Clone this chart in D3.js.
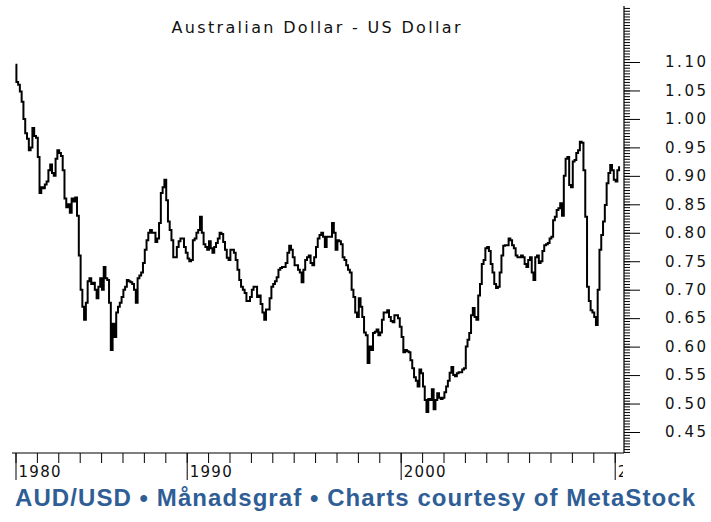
<!DOCTYPE html>
<html><head><meta charset="utf-8">
<script src="https://cdn.jsdelivr.net/npm/d3@7"></script>
<style>
html,body{margin:0;padding:0;background:#fff;}
svg{display:block;}
</style></head><body>
<svg id="c" width="711" height="522"></svg>
<script>
const titleText = "Australian Dollar - US Dollar";
const captionText = "AUD/USD \u2022 M\u00e5nadsgraf \u2022 Charts courtesy of MetaStock";
const startYear = 1982; // first monthly bar: January 1982
const audUsd = [
1.095,1.065,1.060,1.048,1.030,1.000,0.975,0.965,0.945,0.950,
0.984,0.970,0.967,0.933,0.870,0.880,0.878,0.885,0.890,0.910,
0.920,0.905,0.900,0.930,0.945,0.940,0.935,0.910,0.860,0.845,
0.850,0.835,0.860,0.855,0.862,0.830,0.760,0.700,0.670,0.647,
0.677,0.715,0.720,0.710,0.712,0.700,0.685,0.705,0.720,0.700,
0.740,0.720,0.717,0.677,0.594,0.640,0.617,0.660,0.670,0.677,
0.687,0.700,0.705,0.717,0.715,0.713,0.710,0.700,0.677,0.720,
0.725,0.730,0.747,0.770,0.787,0.800,0.805,0.800,0.800,0.784,
0.790,0.817,0.870,0.880,0.893,0.857,0.820,0.805,0.787,0.757,
0.757,0.775,0.785,0.790,0.790,0.775,0.765,0.755,0.750,0.752,
0.787,0.790,0.800,0.805,0.828,0.800,0.780,0.775,0.770,0.785,
0.773,0.765,0.775,0.782,0.790,0.800,0.798,0.784,0.770,0.756,
0.752,0.770,0.770,0.765,0.752,0.735,0.717,0.705,0.700,0.694,
0.680,0.680,0.687,0.700,0.705,0.705,0.687,0.690,0.675,0.660,
0.647,0.665,0.665,0.685,0.705,0.710,0.715,0.722,0.735,0.738,
0.740,0.740,0.747,0.765,0.777,0.770,0.757,0.743,0.743,0.735,
0.730,0.713,0.735,0.752,0.757,0.760,0.747,0.743,0.757,0.775,
0.790,0.796,0.800,0.793,0.775,0.793,0.793,0.793,0.817,0.800,
0.770,0.787,0.785,0.780,0.757,0.752,0.743,0.735,0.730,0.700,
0.687,0.660,0.652,0.685,0.670,0.652,0.625,0.620,0.571,0.600,
0.594,0.624,0.626,0.630,0.620,0.625,0.647,0.660,0.660,0.664,
0.652,0.645,0.643,0.655,0.655,0.650,0.635,0.617,0.590,0.594,
0.592,0.590,0.576,0.562,0.546,0.540,0.530,0.560,0.553,0.530,
0.506,0.485,0.508,0.506,0.525,0.490,0.506,0.518,0.510,0.508,
0.510,0.520,0.530,0.540,0.554,0.564,0.550,0.548,0.553,0.555,
0.555,0.560,0.562,0.600,0.612,0.624,0.655,0.668,0.652,0.647,
0.690,0.710,0.745,0.752,0.773,0.775,0.768,0.745,0.730,0.710,
0.703,0.705,0.730,0.760,0.777,0.778,0.778,0.790,0.787,0.778,
0.773,0.760,0.757,0.757,0.760,0.757,0.745,0.740,0.752,0.757,
0.730,0.717,0.757,0.760,0.747,0.750,0.768,0.778,0.780,0.782,
0.790,0.793,0.822,0.828,0.840,0.843,0.852,0.830,0.900,0.930,
0.933,0.884,0.880,0.925,0.928,0.940,0.945,0.960,0.958,0.910,
0.828,0.705,0.680,0.664,0.660,0.652,0.638,0.700,0.770,0.796,
0.820,0.849,0.887,0.905,0.919,0.910,0.893,0.890,0.910,0.915
];
const yMajorTicks = [0.45,0.50,0.55,0.60,0.65,0.70,0.75,0.80,0.85,0.90,0.95,1.00,1.05,1.10];
const yMinorStep = 0.005;
const yAxisRange = [0.415, 1.195];
const xMinorYears = d3.range(1982, 2011);
const xMajorYears = [1982, 1990, 2000, 2010];
const xMajorLabels = ["1980", "1990", "2000", "2010"];

const svg = d3.select("#c");
const FONT = "'DejaVu Sans', 'Liberation Sans', Arial, sans-serif";
const CAPFONT = "'Liberation Sans', Arial, sans-serif";

const x = d3.scaleTime()
  .domain([new Date(1982, 0, 1), new Date(2010, 0, 1)])
  .range([15.5, 614.7]);
const y = d3.scaleLinear().domain([0.45, 1.10]).range([432, 62]);

const axisX = 624, axisY = 453;

// title
svg.append("text")
  .attr("x", 316).attr("y", 33)
  .attr("text-anchor", "middle")
  .attr("font-family", FONT).attr("font-size", 16)
  .attr("fill", "#111")
  .attr("textLength", 289).attr("lengthAdjust", "spacing")
  .text(titleText);

// data line
const series = audUsd.map((v, i) => ({ date: new Date(startYear, i, 1), value: v }));
const line = d3.line()
  .x(d => x(d.date))
  .y(d => y(d.value))
  .curve(d3.curveStep);
svg.append("path")
  .datum(series)
  .attr("fill", "none")
  .attr("stroke", "#000")
  .attr("stroke-width", 2)
  .attr("stroke-linejoin", "miter")
  .attr("d", line);

// right axis
const minorVals = d3.range(Math.round(yAxisRange[0] / yMinorStep), Math.round(yAxisRange[1] / yMinorStep) + 1)
  .map(k => +(k * yMinorStep).toFixed(3));
const gy = svg.append("g").attr("transform", `translate(${axisX},0)`);
gy.call(d3.axisRight(y).tickValues(minorVals).tickSize(6).tickFormat(""))
  .call(g => g.select(".domain").remove());
const gy2 = svg.append("g").attr("transform", `translate(${axisX},0)`);
gy2.call(d3.axisRight(y).tickValues(yMajorTicks).tickSize(16).tickPadding(25).tickFormat(d3.format(".2f")))
  .call(g => g.select(".domain").remove());
gy2.selectAll("text")
  .attr("font-family", FONT).attr("font-size", 15).attr("fill", "#111")
  .attr("textLength", 41).attr("lengthAdjust", "spacing");
svg.selectAll(".tick line").attr("stroke", "#000");
svg.append("line")
  .attr("x1", axisX).attr("x2", axisX)
  .attr("y1", 6).attr("y2", axisY)
  .attr("stroke", "#000").attr("stroke-width", 1.2);

// bottom axis
const gx = svg.append("g").attr("transform", `translate(0,${axisY})`);
gx.call(d3.axisBottom(x).tickValues(xMinorYears.map(yr => new Date(yr, 0, 1))).tickSize(10).tickFormat(""))
  .call(g => g.select(".domain").remove());
const gx2 = svg.append("g").attr("transform", `translate(0,${axisY})`);
gx2.call(d3.axisBottom(x).tickValues(xMajorYears.map(yr => new Date(yr, 0, 1))).tickSize(27).tickFormat(""))
  .call(g => g.select(".domain").remove());
svg.selectAll(".tick line").attr("stroke", "#000");
svg.append("line")
  .attr("x1", 12).attr("x2", axisX)
  .attr("y1", axisY).attr("y2", axisY)
  .attr("stroke", "#000").attr("stroke-width", 1.2);

svg.append("clipPath").attr("id", "xlabclip")
  .append("rect").attr("x", 0).attr("y", 440).attr("width", axisX - 1).attr("height", 60);
svg.append("g").attr("clip-path", "url(#xlabclip)")
  .selectAll("text").data(xMajorYears).join("text")
  .attr("x", d => x(new Date(d, 0, 1)) + 3)
  .attr("y", 477)
  .attr("font-family", FONT).attr("font-size", 15).attr("fill", "#111")
  .attr("textLength", 42).attr("lengthAdjust", "spacing")
  .text((d, i) => xMajorLabels[i]);

// caption
svg.append("text")
  .attr("x", 15).attr("y", 506)
  .attr("font-family", CAPFONT).attr("font-size", 24).attr("font-weight", "bold")
  .attr("fill", "#2f5e96")
  .attr("textLength", 680).attr("lengthAdjust", "spacing")
  .text(captionText);
</script>
</body></html>
